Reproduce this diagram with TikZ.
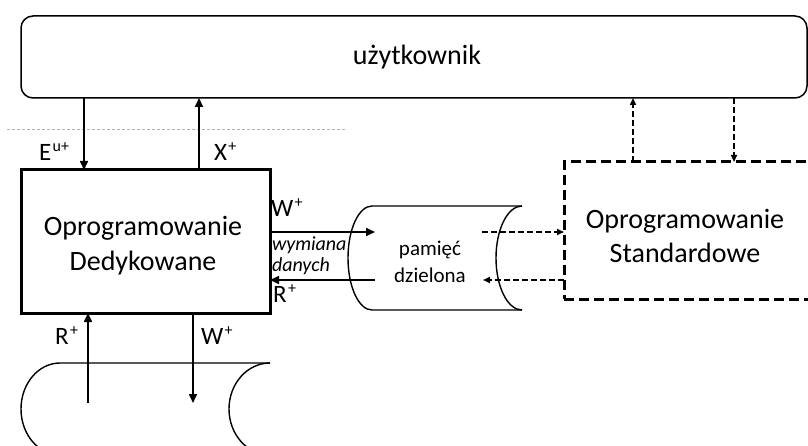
\documentclass[tikz,border=0pt]{standalone}
\usepackage{fontspec}
\setmainfont{Carlito}
\usetikzlibrary{arrows.meta}
\newcommand\supplus[1]{\hspace{0.06em}\raisebox{0.36em}{\fontsize{16}{16}\selectfont #1}}
\begin{document}
\begin{tikzpicture}[x=1pt,y=-1pt,
  every node/.style={inner sep=0pt, outer sep=0pt},
  arr/.style={line width=1.6pt, -{Triangle[length=9pt,width=8pt]}},
  darr/.style={line width=1.6pt, dash pattern=on 6pt off 3pt, -{Triangle[length=7pt,width=6pt]}},
  big/.style={font=\fontsize{28}{34}\selectfont},
  lab/.style={font=\fontsize{25}{28}\selectfont},
  memtxt/.style={font=\fontsize{21}{26}\selectfont},
  ital/.style={font=\fontsize{20}{22}\selectfont\itshape},
]
\useasboundingbox (0,0) rectangle (808,446);
\clip (0,0) rectangle (808,446);

% user
\node[draw, line width=1.5pt, rounded corners=12pt, minimum width=786pt, minimum height=82pt, anchor=north west] (user) at (21,16) {};
\node[big, anchor=base] (usertext) at (417,65) {użytkownik};

% divider
\coordinate (divA) at (7,129);
\coordinate (divB) at (347,129);
\draw[gray!60, line width=0.8pt, dash pattern=on 3pt off 2pt] (divA) -- (divB);

% dedicated software
\node[draw, line width=3pt, minimum width=249pt, minimum height=143pt, anchor=north west] (ded) at (21,170) {};
\node[big, anchor=base] (dedA) at (143,236) {Oprogramowanie};
\node[big, anchor=base] (dedB) at (143,271) {Dedykowane};

% standard software
\node[draw, line width=3pt, dash pattern=on 10pt off 5pt, minimum width=270pt, minimum height=137pt, anchor=north west] (std) at (564,162) {};
\node[big, anchor=base] (stdA) at (685,229) {Oprogramowanie};
\node[big, anchor=base] (stdB) at (685,262) {Standardowe};

% shared memory (stored data shape)
\node[minimum width=150pt, minimum height=104pt, anchor=north west] (mem) at (372,206) {};
\draw[line width=1.4pt] (mem.north east) -- (mem.north west)
  arc[start angle=90, end angle=270, x radius=24pt, y radius=52pt] -- (mem.south east);
\draw[line width=1.4pt] (mem.north east)
  arc[start angle=90, end angle=270, x radius=26pt, y radius=52pt];
\node[memtxt, anchor=base] (memA) at (430,255) {pamięć};
\node[memtxt, anchor=base] (memB) at (430,282) {dzielona};

% disk (stored data shape, bottom)
\node[minimum width=210pt, minimum height=92pt, anchor=north west] (disk) at (60,363) {};
\draw[line width=1.4pt] (disk.north east) -- (disk.north west)
  arc[start angle=90, end angle=270, x radius=39pt, y radius=46pt] -- (disk.south east);
\draw[line width=1.4pt] (disk.north east)
  arc[start angle=90, end angle=270, x radius=41pt, y radius=46pt];

% x / y guides
\coordinate (xE) at (84,0);
\coordinate (xX) at (199,0);
\coordinate (xSu) at (633,0);
\coordinate (xSd) at (734,0);
\coordinate (yW) at (0,232);
\coordinate (yR) at (0,280);
\coordinate (memW) at (375,232);
\coordinate (memR) at (375,280);
\coordinate (memWo) at (482,232);
\coordinate (memRo) at (483,280);
\coordinate (diskR) at (88,403);
\coordinate (diskW) at (193,403);

% user <-> dedicated
\draw[arr] (user.south -| xE) -- (ded.north -| xE);
\draw[arr] (ded.north -| xX) -- (user.south -| xX);
\node[lab, anchor=base west] (labE) at (39,161) {E\supplus{u+}};
\node[lab, anchor=base west] (labX) at (214,161) {X\supplus{+}};

% user <-> standard
\draw[darr] (std.north -| xSu) -- (user.south -| xSu);
\draw[darr] (user.south -| xSd) -- (std.north -| xSd);

% dedicated <-> memory
\draw[arr] (ded.east |- yW) -- (memW);
\draw[arr] (memR) -- (ded.east |- yR);
\node[lab, anchor=base west] (labW) at (271,217) {W\supplus{+}};
\node[ital, anchor=base west] (labWy) at (272,251) {wymiana};
\node[ital, anchor=base west] (labDa) at (272,272) {danych};
\node[lab, anchor=base west] (labR) at (273,302) {R\supplus{+}};

% memory <-> standard
\draw[darr] (memWo) -- (std.west |- yW);
\draw[darr] (std.west |- yR) -- (memRo);

% dedicated <-> disk
\draw[arr] (diskR) -- (ded.south -| diskR);
\draw[arr] (ded.south -| diskW) -- (diskW);
\node[lab, anchor=base west] (labR2) at (55,344) {R\supplus{+}};
\node[lab, anchor=base west] (labW2) at (201,344) {W\supplus{+}};
\end{tikzpicture}
\end{document}
